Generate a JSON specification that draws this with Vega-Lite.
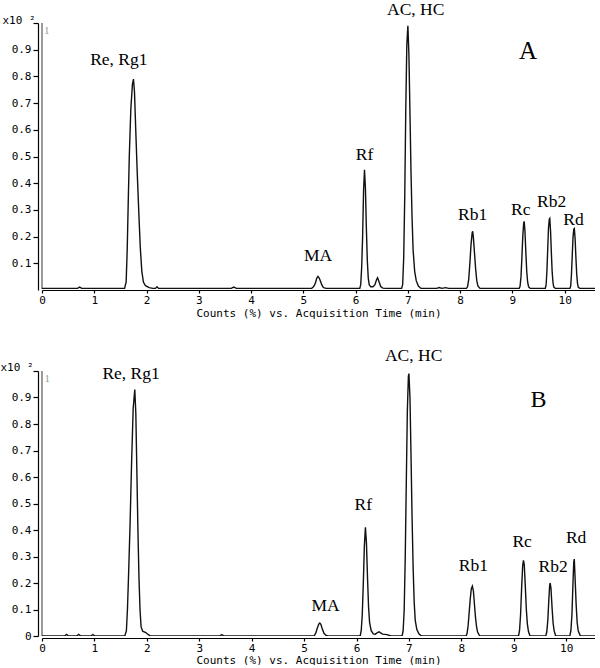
{
  "$schema": "https://vega.github.io/schema/vega-lite/v6.json",
  "padding": 0,
  "background": "white",
  "bounds": "flush",
  "spacing": 81,
  "config": {
    "view": {"stroke": null},
    "axis": {"grid": false, "domainColor": "#000", "tickColor": "#000", "labelColor": "#000", "titleColor": "#000", "labelFont": "DejaVu Sans Mono", "titleFont": "DejaVu Sans Mono", "labelFontSize": 11, "titleFontSize": 11, "titleFontWeight": "normal", "domainWidth": 1.2, "tickWidth": 1.2}
  },
  "datasets": {
    "traceA": [
      {"t":0,"v":0.006},{"t":0.68,"v":0.006},{"t":0.72,"v":0.011},{"t":0.76,"v":0.006},
      {"t":1.58,"v":0.006},{"t":1.61,"v":0.03},{"t":1.63,"v":0.15},{"t":1.65,"v":0.33},{"t":1.67,"v":0.5},{"t":1.7,"v":0.68},{"t":1.73,"v":0.77},{"t":1.75,"v":0.79},{"t":1.77,"v":0.74},{"t":1.79,"v":0.62},{"t":1.82,"v":0.45},{"t":1.85,"v":0.3},{"t":1.88,"v":0.16},{"t":1.91,"v":0.07},{"t":1.94,"v":0.03},{"t":1.98,"v":0.016},{"t":2.05,"v":0.009},{"t":2.12,"v":0.006},{"t":2.17,"v":0.006},{"t":2.2,"v":0.012},{"t":2.23,"v":0.006},
      {"t":3.62,"v":0.006},{"t":3.67,"v":0.011},{"t":3.72,"v":0.006},
      {"t":5.16,"v":0.006},{"t":5.184,"v":0.01},{"t":5.208,"v":0.016},{"t":5.232,"v":0.027},{"t":5.256,"v":0.044},{"t":5.28,"v":0.051},{"t":5.304,"v":0.045},{"t":5.328,"v":0.033},{"t":5.352,"v":0.02},{"t":5.376,"v":0.011},{"t":5.4,"v":0.008},{"t":5.44,"v":0.006},
      {"t":6.08,"v":0.006},{"t":6.098,"v":0.02},{"t":6.116,"v":0.085},{"t":6.134,"v":0.2},{"t":6.152,"v":0.37},{"t":6.17,"v":0.45},{"t":6.188,"v":0.38},{"t":6.206,"v":0.23},{"t":6.224,"v":0.11},{"t":6.242,"v":0.045},{"t":6.26,"v":0.02},{"t":6.29,"v":0.012},{"t":6.33,"v":0.012},{"t":6.37,"v":0.02},{"t":6.4,"v":0.038},{"t":6.42,"v":0.046},{"t":6.45,"v":0.03},{"t":6.48,"v":0.013},{"t":6.52,"v":0.007},{"t":6.58,"v":0.006},
      {"t":6.88,"v":0.006},{"t":6.9,"v":0.02},{"t":6.92,"v":0.12},{"t":6.94,"v":0.35},{"t":6.96,"v":0.68},{"t":6.98,"v":0.92},{"t":7.0,"v":0.99},{"t":7.02,"v":0.88},{"t":7.04,"v":0.66},{"t":7.06,"v":0.44},{"t":7.08,"v":0.27},{"t":7.1,"v":0.15},{"t":7.13,"v":0.07},{"t":7.16,"v":0.035},{"t":7.2,"v":0.015},{"t":7.25,"v":0.006},
      {"t":7.55,"v":0.006},{"t":7.6,"v":0.009},{"t":7.65,"v":0.006},{"t":7.72,"v":0.009},{"t":7.78,"v":0.006},
      {"t":8.12,"v":0.006},{"t":8.142,"v":0.012},{"t":8.164,"v":0.04},{"t":8.186,"v":0.1},{"t":8.208,"v":0.17},{"t":8.23,"v":0.215},{"t":8.24,"v":0.22},{"t":8.252,"v":0.2},{"t":8.274,"v":0.14},{"t":8.296,"v":0.08},{"t":8.318,"v":0.035},{"t":8.34,"v":0.015},{"t":8.38,"v":0.006},
      {"t":9.13,"v":0.006},{"t":9.147,"v":0.015},{"t":9.164,"v":0.05},{"t":9.181,"v":0.12},{"t":9.198,"v":0.2},{"t":9.215,"v":0.25},{"t":9.225,"v":0.257},{"t":9.24,"v":0.22},{"t":9.257,"v":0.14},{"t":9.274,"v":0.07},{"t":9.291,"v":0.03},{"t":9.31,"v":0.012},{"t":9.34,"v":0.006},
      {"t":9.63,"v":0.006},{"t":9.645,"v":0.02},{"t":9.66,"v":0.07},{"t":9.675,"v":0.15},{"t":9.69,"v":0.23},{"t":9.705,"v":0.265},{"t":9.715,"v":0.268},{"t":9.73,"v":0.22},{"t":9.745,"v":0.14},{"t":9.76,"v":0.07},{"t":9.775,"v":0.03},{"t":9.79,"v":0.012},{"t":9.82,"v":0.006},
      {"t":10.1,"v":0.006},{"t":10.115,"v":0.015},{"t":10.13,"v":0.06},{"t":10.145,"v":0.13},{"t":10.16,"v":0.2},{"t":10.175,"v":0.228},{"t":10.185,"v":0.23},{"t":10.2,"v":0.19},{"t":10.215,"v":0.12},{"t":10.23,"v":0.06},{"t":10.245,"v":0.025},{"t":10.26,"v":0.01},{"t":10.29,"v":0.006},{"t":10.58,"v":0.006}
    ],
    "traceB": [
      {"t":0,"v":0},{"t":0.43,"v":0},{"t":0.47,"v":0.006},{"t":0.51,"v":0},{"t":0.66,"v":0},{"t":0.7,"v":0.006},{"t":0.74,"v":0},{"t":0.93,"v":0},{"t":0.97,"v":0.005},{"t":1.01,"v":0},
      {"t":1.58,"v":0},{"t":1.61,"v":0.02},{"t":1.63,"v":0.1},{"t":1.65,"v":0.22},{"t":1.68,"v":0.42},{"t":1.71,"v":0.66},{"t":1.74,"v":0.86},{"t":1.77,"v":0.93},{"t":1.79,"v":0.84},{"t":1.81,"v":0.62},{"t":1.83,"v":0.4},{"t":1.85,"v":0.22},{"t":1.87,"v":0.1},{"t":1.89,"v":0.035},{"t":1.92,"v":0.018},{"t":1.98,"v":0.013},{"t":2.03,"v":0.005},{"t":2.07,"v":0},
      {"t":3.39,"v":0},{"t":3.43,"v":0.005},{"t":3.47,"v":0},
      {"t":5.19,"v":0},{"t":5.22,"v":0.01},{"t":5.25,"v":0.028},{"t":5.28,"v":0.045},{"t":5.3,"v":0.049},{"t":5.32,"v":0.044},{"t":5.35,"v":0.025},{"t":5.38,"v":0.01},{"t":5.42,"v":0.002},{"t":5.46,"v":0},
      {"t":6.07,"v":0},{"t":6.09,"v":0.02},{"t":6.11,"v":0.08},{"t":6.13,"v":0.2},{"t":6.15,"v":0.34},{"t":6.17,"v":0.41},{"t":6.19,"v":0.35},{"t":6.21,"v":0.22},{"t":6.23,"v":0.11},{"t":6.25,"v":0.05},{"t":6.28,"v":0.02},{"t":6.32,"v":0.008},{"t":6.36,"v":0.007},{"t":6.4,"v":0.013},{"t":6.43,"v":0.016},{"t":6.46,"v":0.012},{"t":6.5,"v":0.007},{"t":6.58,"v":0.005},{"t":6.66,"v":0},
      {"t":6.87,"v":0},{"t":6.89,"v":0.02},{"t":6.91,"v":0.1},{"t":6.93,"v":0.3},{"t":6.95,"v":0.58},{"t":6.97,"v":0.85},{"t":6.99,"v":0.98},{"t":7.0,"v":0.99},{"t":7.02,"v":0.9},{"t":7.04,"v":0.68},{"t":7.06,"v":0.45},{"t":7.08,"v":0.26},{"t":7.1,"v":0.13},{"t":7.12,"v":0.06},{"t":7.15,"v":0.025},{"t":7.19,"v":0.008},{"t":7.24,"v":0},
      {"t":8.09,"v":0},{"t":8.11,"v":0.01},{"t":8.13,"v":0.04},{"t":8.15,"v":0.09},{"t":8.17,"v":0.14},{"t":8.19,"v":0.178},{"t":8.21,"v":0.188},{"t":8.23,"v":0.17},{"t":8.25,"v":0.12},{"t":8.27,"v":0.07},{"t":8.29,"v":0.035},{"t":8.31,"v":0.015},{"t":8.35,"v":0},
      {"t":9.09,"v":0},{"t":9.11,"v":0.02},{"t":9.13,"v":0.08},{"t":9.15,"v":0.18},{"t":9.17,"v":0.265},{"t":9.185,"v":0.285},{"t":9.2,"v":0.27},{"t":9.22,"v":0.19},{"t":9.24,"v":0.1},{"t":9.26,"v":0.045},{"t":9.28,"v":0.018},{"t":9.31,"v":0},
      {"t":9.61,"v":0},{"t":9.63,"v":0.015},{"t":9.65,"v":0.06},{"t":9.67,"v":0.14},{"t":9.685,"v":0.19},{"t":9.695,"v":0.2},{"t":9.71,"v":0.18},{"t":9.73,"v":0.11},{"t":9.75,"v":0.05},{"t":9.77,"v":0.02},{"t":9.8,"v":0},
      {"t":10.07,"v":0},{"t":10.09,"v":0.02},{"t":10.11,"v":0.08},{"t":10.13,"v":0.2},{"t":10.145,"v":0.28},{"t":10.155,"v":0.29},{"t":10.17,"v":0.22},{"t":10.19,"v":0.12},{"t":10.21,"v":0.05},{"t":10.23,"v":0.02},{"t":10.27,"v":0},{"t":10.58,"v":0}
    ],
    "labelsA": [
      {"t":1.47,"v":0.86,"label":"Re, Rg1"},
      {"t":7.15,"v":1.05,"label":"AC, HC"},
      {"t":6.17,"v":0.505,"label":"Rf"},
      {"t":5.28,"v":0.128,"label":"MA"},
      {"t":8.24,"v":0.28,"label":"Rb1"},
      {"t":9.16,"v":0.298,"label":"Rc"},
      {"t":9.75,"v":0.33,"label":"Rb2"},
      {"t":10.17,"v":0.264,"label":"Rd"}
    ],
    "labelsB": [
      {"t":1.7,"v":0.99,"label":"Re, Rg1"},
      {"t":7.09,"v":1.056,"label":"AC, HC"},
      {"t":6.13,"v":0.496,"label":"Rf"},
      {"t":5.41,"v":0.113,"label":"MA"},
      {"t":8.23,"v":0.263,"label":"Rb1"},
      {"t":9.16,"v":0.353,"label":"Rc"},
      {"t":9.75,"v":0.259,"label":"Rb2"},
      {"t":10.19,"v":0.368,"label":"Rd"}
    ],
    "panelA": [{"t":9.3,"v":0.897,"label":"A"}],
    "panelB": [{"t":9.47,"v":0.89,"label":"B"}],
    "traceNoA": [{"t":0.09,"v":0.97,"label":"1"}],
    "traceNoB": [{"t":0.1,"v":0.97,"label":"1"}]
  },
  "vconcat": [
    {
      "width": 553,
      "height": 267,
      "layer": [
        {
          "data": {"name": "traceA"},
          "mark": {"type": "rule", "color": "#9a9a9a", "strokeWidth": 1.5},
          "encoding": {"x": {"datum": 0, "type": "quantitative"}, "y": {"datum": 0.006, "type": "quantitative"}, "y2": {"datum": 1}}
        },
        {
          "data": {"name": "traceA"},
          "mark": {"type": "line", "color": "#111", "strokeWidth": 1.4, "clip": true},
          "encoding": {
            "x": {"field": "t", "type": "quantitative", "scale": {"domain": [0, 10.58], "nice": false, "zero": false},
              "axis": {"values": [0,1,2,3,4,5,6,7,8,9,10], "tickCount": 20, "format": "d", "tickSize": 3, "labelPadding": 1, "title": "Counts (%) vs. Acquisition Time (min)", "titlePadding": 2, "labelFlush": false, "labelOverlap": false}},
            "y": {"field": "v", "type": "quantitative", "scale": {"domain": [0, 1], "nice": false},
              "axis": {"values": [0.1,0.2,0.3,0.4,0.5,0.6,0.7,0.8,0.9,1], "tickCount": 20, "labelExpr": "datum.value >= 1 ? '' : format(datum.value, '.1f')", "tickSize": 5, "labelPadding": 2, "offset": 4, "labelOverlap": false, "labelFlush": false, "labelBound": false,
                "title": "x10 ²", "titleAngle": 0, "titleAlign": "left", "titleBaseline": "middle", "titleX": -36, "titleY": -3, "titleFontSize": 11}}
          }
        },
        {
          "data": {"name": "labelsA"},
          "mark": {"type": "text", "font": "Liberation Serif", "fontSize": 17.5, "baseline": "middle", "align": "center", "color": "#000"},
          "encoding": {"x": {"field": "t", "type": "quantitative"}, "y": {"field": "v", "type": "quantitative"}, "text": {"field": "label"}}
        },
        {
          "data": {"name": "panelA"},
          "mark": {"type": "text", "font": "Liberation Serif", "fontSize": 25, "baseline": "middle", "align": "center", "color": "#000"},
          "encoding": {"x": {"field": "t", "type": "quantitative"}, "y": {"field": "v", "type": "quantitative"}, "text": {"field": "label"}}
        },
        {
          "data": {"name": "traceNoA"},
          "mark": {"type": "text", "font": "Liberation Serif", "fontSize": 11, "baseline": "middle", "align": "center", "color": "#999"},
          "encoding": {"x": {"field": "t", "type": "quantitative"}, "y": {"field": "v", "type": "quantitative"}, "text": {"field": "label"}}
        }
      ]
    },
    {
      "width": 553,
      "height": 265,
      "layer": [
        {
          "data": {"name": "traceB"},
          "mark": {"type": "rule", "color": "#9a9a9a", "strokeWidth": 1.5},
          "encoding": {"x": {"datum": 0, "type": "quantitative"}, "y": {"datum": 0, "type": "quantitative"}, "y2": {"datum": 1}}
        },
        {
          "data": {"name": "traceB"},
          "mark": {"type": "line", "color": "#111", "strokeWidth": 1.4, "clip": true},
          "encoding": {
            "x": {"field": "t", "type": "quantitative", "scale": {"domain": [0, 10.55], "nice": false, "zero": false},
              "axis": {"values": [0,1,2,3,4,5,6,7,8,9,10], "tickCount": 20, "format": "d", "tickSize": 3, "labelPadding": 1, "offset": 2, "title": "Counts (%) vs. Acquisition Time (min)", "titlePadding": 1, "labelFlush": false, "labelOverlap": false}},
            "y": {"field": "v", "type": "quantitative", "scale": {"domain": [0, 1], "nice": false},
              "axis": {"values": [0,0.1,0.2,0.3,0.4,0.5,0.6,0.7,0.8,0.9,1], "tickCount": 20, "labelExpr": "datum.value >= 1 ? '' : (datum.value == 0 ? '0' : format(datum.value, '.1f'))", "tickSize": 5, "labelPadding": 2, "offset": 4, "labelOverlap": false, "labelFlush": false, "labelBound": false,
                "title": "x10 ²", "titleAngle": 0, "titleAlign": "left", "titleBaseline": "middle", "titleX": -38, "titleY": -4, "titleFontSize": 11}}
          }
        },
        {
          "data": {"name": "labelsB"},
          "mark": {"type": "text", "font": "Liberation Serif", "fontSize": 17.5, "baseline": "middle", "align": "center", "color": "#000"},
          "encoding": {"x": {"field": "t", "type": "quantitative"}, "y": {"field": "v", "type": "quantitative"}, "text": {"field": "label"}}
        },
        {
          "data": {"name": "panelB"},
          "mark": {"type": "text", "font": "Liberation Serif", "fontSize": 24, "baseline": "middle", "align": "center", "color": "#000"},
          "encoding": {"x": {"field": "t", "type": "quantitative"}, "y": {"field": "v", "type": "quantitative"}, "text": {"field": "label"}}
        },
        {
          "data": {"name": "traceNoB"},
          "mark": {"type": "text", "font": "Liberation Serif", "fontSize": 11, "baseline": "middle", "align": "center", "color": "#999"},
          "encoding": {"x": {"field": "t", "type": "quantitative"}, "y": {"field": "v", "type": "quantitative"}, "text": {"field": "label"}}
        }
      ]
    }
  ]
}
